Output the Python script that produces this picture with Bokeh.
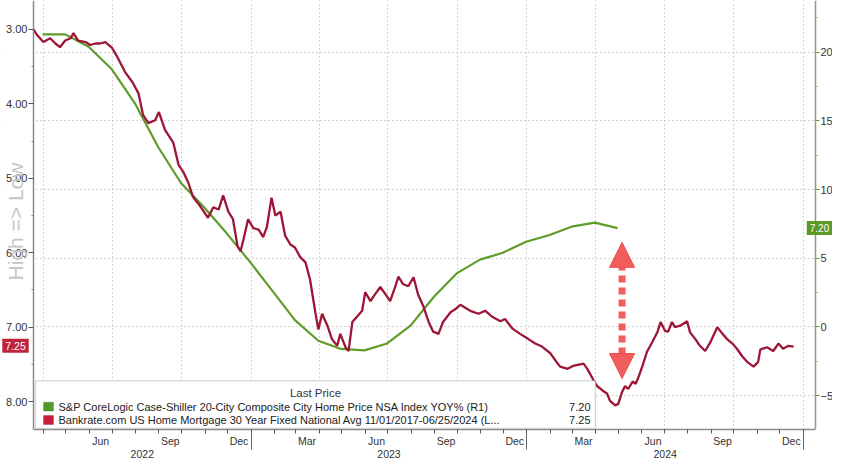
import numpy as np
import pandas as pd
from bokeh.plotting import figure
from bokeh.models import (Range1d, LinearAxis, DatetimeAxis, FixedTicker,
                          DatetimeTickFormatter, NumeralTickFormatter, Grid, Label,
                          BoxAnnotation, Arrow, NormalHead)
from bokeh.embed import file_html
from bokeh.resources import INLINE

# ---------------- data ----------------
hpi_dates = ["2022-03-31", "2022-04-30", "2022-05-31", "2022-06-30", "2022-07-31", "2022-08-31",
             "2022-09-30", "2022-10-31", "2022-11-30", "2022-12-31", "2023-01-31", "2023-02-28",
             "2023-03-31", "2023-04-30", "2023-05-31", "2023-06-30", "2023-07-31", "2023-08-31",
             "2023-09-30", "2023-10-31", "2023-11-30", "2023-12-31", "2024-01-31", "2024-02-29",
             "2024-03-31", "2024-04-30"]
hpi_yoy = [21.3, 21.3, 20.4, 18.8, 16.3, 13.1, 10.5, 8.7, 6.8, 4.7, 2.5, 0.5,
           -1.0, -1.6, -1.7, -1.2, 0.1, 2.2, 3.9, 4.9, 5.4, 6.2, 6.7, 7.3, 7.6, 7.2]

mort_dates = ["2022-03-19", "2022-03-24", "2022-04-01", "2022-04-10", "2022-04-17", "2022-04-23", "2022-04-30", "2022-05-07", "2022-05-11", "2022-05-17",
              "2022-05-27", "2022-06-02", "2022-06-09", "2022-06-15", "2022-06-22", "2022-07-01", "2022-07-09", "2022-07-18", "2022-07-28", "2022-08-05",
              "2022-08-11", "2022-08-18", "2022-08-27", "2022-09-01", "2022-09-09", "2022-09-20", "2022-09-27", "2022-10-03", "2022-10-10", "2022-10-16",
              "2022-10-26", "2022-11-05", "2022-11-12", "2022-11-19", "2022-11-25", "2022-12-02", "2022-12-08", "2022-12-14", "2022-12-18", "2022-12-22",
              "2022-12-28", "2023-01-04", "2023-01-11", "2023-01-17", "2023-01-22", "2023-01-28", "2023-02-02", "2023-02-09", "2023-02-15", "2023-02-22",
              "2023-02-28", "2023-03-07", "2023-03-14", "2023-03-20", "2023-03-27", "2023-03-31", "2023-04-05", "2023-04-12", "2023-04-18", "2023-04-25",
              "2023-04-29", "2023-05-06", "2023-05-10", "2023-05-15", "2023-05-22", "2023-05-28", "2023-06-01", "2023-06-08", "2023-06-14", "2023-06-21",
              "2023-06-28", "2023-07-04", "2023-07-11", "2023-07-15", "2023-07-21", "2023-07-28", "2023-08-04", "2023-08-10", "2023-08-17", "2023-08-24",
              "2023-08-30", "2023-09-06", "2023-09-12", "2023-09-22", "2023-09-28", "2023-10-05", "2023-10-18", "2023-10-29", "2023-11-07", "2023-11-16",
              "2023-11-27", "2023-12-03", "2023-12-13", "2023-12-23", "2024-01-03", "2024-01-12", "2024-01-21", "2024-02-01", "2024-02-08", "2024-02-14",
              "2024-02-24", "2024-03-02", "2024-03-16", "2024-03-21", "2024-03-28", "2024-04-03", "2024-04-10", "2024-04-16", "2024-04-20", "2024-04-27",
              "2024-05-01", "2024-05-06", "2024-05-10", "2024-05-14", "2024-05-20", "2024-05-24", "2024-05-27", "2024-06-02", "2024-06-08", "2024-06-15",
              "2024-06-22", "2024-06-26", "2024-07-02", "2024-07-06", "2024-07-11", "2024-07-15", "2024-07-22", "2024-07-31", "2024-08-04", "2024-08-11",
              "2024-08-17", "2024-08-24", "2024-08-31", "2024-09-09", "2024-09-16", "2024-09-22", "2024-09-29", "2024-10-05", "2024-10-12", "2024-10-19",
              "2024-10-27", "2024-11-02", "2024-11-05", "2024-11-14", "2024-11-22", "2024-11-29", "2024-12-05", "2024-12-12", "2024-12-19"]
mort_rate = [3.00, 3.08, 3.17, 3.12, 3.19, 3.24, 3.15, 3.12, 3.05, 3.15,
             3.17, 3.21, 3.19, 3.19, 3.17, 3.25, 3.39, 3.57, 3.71, 3.86,
             4.15, 4.26, 4.22, 4.11, 4.35, 4.52, 4.82, 4.91, 5.06, 5.25,
             5.38, 5.53, 5.39, 5.42, 5.23, 5.45, 5.55, 5.91, 5.98, 5.82,
             5.55, 5.67, 5.69, 5.79, 5.65, 5.26, 5.50, 5.45, 5.77, 5.89,
             5.93, 6.06, 6.13, 6.36, 6.80, 7.03, 6.82, 6.98, 7.16, 7.25,
             7.09, 7.27, 7.32, 6.93, 6.85, 6.78, 6.53, 6.65, 6.56, 6.46,
             6.56, 6.65, 6.45, 6.32, 6.42, 6.45, 6.33, 6.56, 6.72, 6.93,
             7.06, 7.09, 6.93, 6.80, 6.76, 6.70, 6.78, 6.82, 6.78, 6.86,
             6.92, 6.89, 7.02, 7.09, 7.16, 7.22, 7.26, 7.35, 7.45, 7.53,
             7.56, 7.52, 7.49, 7.56, 7.69, 7.79, 7.85, 7.89, 7.99, 8.05,
             8.03, 7.87, 7.79, 7.83, 7.73, 7.76, 7.69, 7.52, 7.33, 7.20,
             7.06, 6.93, 7.05, 7.06, 6.93, 7.00, 6.98, 6.92, 7.07, 7.16,
             7.25, 7.32, 7.20, 7.00, 7.09, 7.16, 7.22, 7.29, 7.39, 7.47,
             7.53, 7.47, 7.30, 7.27, 7.32, 7.22, 7.29, 7.25, 7.26]

left_ticks = [3, 4, 5, 6, 7, 8]
left_minor = [3.5, 4.5, 5.5, 6.5, 7.5]
right_ticks = [-5, 0, 5, 10, 15, 20]
right_minor = [-7.5, -2.5, 2.5, 7.5, 12.5, 17.5, 22.5]
month_label_months = ["2022-06", "2022-09", "2022-12", "2023-03", "2023-06", "2023-09",
                      "2023-12", "2024-03", "2024-06", "2024-09", "2024-12"]
year_labels = [2022, 2023, 2024]

hpi_name = "S&P CoreLogic Case-Shiller 20-City Composite City Home Price NSA Index YOY%  (R1)"
mort_name = "Bankrate.com US Home Mortgage 30 Year Fixed National Avg 11/01/2017-06/25/2024  (L..."
hpi_last = "7.20"
mort_last = "7.25"

# ---------------- layout / helpers ----------------
def ms(t):
    return pd.Timestamp(t).value / 1e6

FONT = "Liberation Sans"
RED = "#9e1636"
GREEN = "#5f9c2a"
GRID = "#a8a8a8"
ARROW_RED = "#f04a4a"

W, H = 832, 460
FRAME_H = 431                      # frame spans the full canvas width, axes are pinned
PX_LEFT, PX_RIGHT = 33, 815        # where the left / right value axes sit
PLOT_START, PLOT_END = pd.Timestamp("2022-03-19"), pd.Timestamp("2025-01-17")
dpp = (PLOT_END - PLOT_START) / (PX_RIGHT - PX_LEFT)
X0 = PLOT_START - dpp * PX_LEFT
X1 = PLOT_END + dpp * (W - PX_RIGHT)

L_TOP, L_BOT = 2.6123, 8.3743      # inverted mortgage-rate scale
R_TOP, R_BOT = 23.768, -7.464      # YoY % scale


def xpx(px):
    return ms(X0 + dpp * px)


def ypx(py):
    return L_TOP + (L_BOT - L_TOP) * py / FRAME_H


p = figure(width=W, height=H, x_axis_type="datetime", y_axis_location=None,
           output_backend="svg", toolbar_location=None,
           x_range=Range1d(ms(X0), ms(X1)), y_range=Range1d(L_BOT, L_TOP),
           min_border_left=0, min_border_right=0, min_border_top=0, min_border_bottom=H - FRAME_H)
p.outline_line_color = None
p.background_fill_color = "white"
p.border_fill_color = "white"
p.extra_y_ranges = {"right": Range1d(R_BOT, R_TOP)}

# left axis (inverted mortgage rate), pinned at the plot's left edge
ya = LinearAxis(fixed_location=ms(PLOT_START),
                ticker=FixedTicker(ticks=left_ticks, minor_ticks=left_minor),
                formatter=NumeralTickFormatter(format="0.00"))
ya.major_tick_out = 5
ya.major_tick_in = 0
ya.minor_tick_out = 2
ya.minor_tick_in = 0
ya.major_label_standoff = 1
ya.major_label_text_font = FONT
ya.major_label_text_font_size = "11px"
ya.major_label_text_color = "#333333"
ya.axis_line_color = "#8a8a8a"
ya.axis_line_width = 1.5
ya.major_tick_line_color = "#555555"
ya.minor_tick_line_color = "#888888"
p.add_layout(ya, "left")

# right axis (YoY %), pinned at the plot's right edge
ra = LinearAxis(y_range_name="right", fixed_location=ms(PLOT_END),
                ticker=FixedTicker(ticks=right_ticks, minor_ticks=right_minor))
ra.major_tick_out = 4
ra.major_tick_in = 0
ra.minor_tick_out = 2
ra.minor_tick_in = 0
ra.major_label_standoff = 1
ra.major_label_text_font = FONT
ra.major_label_text_font_size = "11px"
ra.major_label_text_color = "#333333"
ra.axis_line_color = "#86a566"
ra.axis_line_width = 1.5
ra.major_tick_line_color = "#6d8f4d"
ra.minor_tick_line_color = "#93ad79"
p.add_layout(ra, "right")

# bottom axis: months (labels centred in the month, ticks at month starts)
month_starts = pd.date_range("2022-04-01", "2025-01-01", freq="MS")
xa = p.xaxis[0]
xa.bounds = (ms(PLOT_START), ms(PLOT_END))
xa.ticker = FixedTicker(ticks=[ms(m + "-16") for m in month_label_months],
                        minor_ticks=[ms(d) for d in month_starts])
xa.formatter = DatetimeTickFormatter(days="%b", months="%b", years="%b")
xa.major_tick_out = 0
xa.major_tick_in = 0
xa.minor_tick_out = 4
xa.minor_tick_in = 0
xa.major_label_standoff = 1
xa.major_label_text_font = FONT
xa.major_label_text_font_size = "10.5px"
xa.major_label_text_color = "#333333"
xa.axis_line_color = "#8a8a8a"
xa.axis_line_width = 1.5
xa.minor_tick_line_color = "#555555"

# bottom axis: years
year_mids, year_seps = [], []
for yv in year_labels:
    a = max(PLOT_START, pd.Timestamp(f"{yv}-01-01"))
    b = min(PLOT_END, pd.Timestamp(f"{yv + 1}-01-01"))
    year_mids.append(ms(a + (b - a) / 2))
    year_seps.append(ms(f"{yv + 1}-01-01"))
yax = DatetimeAxis(ticker=FixedTicker(ticks=year_mids, minor_ticks=year_seps),
                   formatter=DatetimeTickFormatter(days="%Y", months="%Y", years="%Y"))
yax.axis_line_color = None
yax.major_tick_line_color = None
yax.major_tick_out = 0
yax.major_tick_in = 0
yax.minor_tick_in = 17
yax.minor_tick_out = 0
yax.minor_tick_line_color = "#666666"
yax.major_label_standoff = 0
yax.major_label_text_font = FONT
yax.major_label_text_font_size = "10.5px"
yax.major_label_text_color = "#333333"
p.add_layout(yax, "below")

# grids
quarters = pd.date_range("2022-04-01", "2025-01-01", freq="QS")
p.xgrid[0].ticker = FixedTicker(ticks=[ms(d) for d in quarters])
p.xgrid[0].grid_line_color = GRID
p.xgrid[0].grid_line_dash = "1 3"
p.xgrid[0].grid_line_width = 1
for g in p.ygrid:
    g.visible = False
rgrid = Grid(dimension=1, ticker=FixedTicker(ticks=right_ticks), y_range_name="right",
             grid_line_color=GRID, grid_line_dash="1 3", grid_line_width=1)
p.add_layout(rgrid)
# keep grid lines inside the plotting area (white margins under the axes' labels)
for lft, rgt in [(ms(X0), ms(PLOT_START)), (ms(PLOT_END), ms(X1))]:
    p.add_layout(BoxAnnotation(left=lft, right=rgt, top=L_TOP, bottom=L_BOT, level="underlay",
                               fill_color="white", fill_alpha=1, line_alpha=0))

# series
p.line(pd.to_datetime(hpi_dates), hpi_yoy, y_range_name="right",
       line_color=GREEN, line_width=2.2)
p.line(pd.to_datetime(mort_dates), mort_rate, line_color=RED, line_width=2.3)

# red double arrow
arrow_x = ms("2024-05-06")
p.add_layout(Arrow(x_start=arrow_x, y_start=7.69, x_end=arrow_x, y_end=5.86,
                   start=NormalHead(size=25, fill_color=ARROW_RED, line_color=ARROW_RED, fill_alpha=0.9),
                   end=NormalHead(size=25, fill_color=ARROW_RED, line_color=ARROW_RED, fill_alpha=0.9),
                   line_color=ARROW_RED, line_width=7, line_dash="7 5", line_alpha=0.9))

# legend box
p.add_layout(BoxAnnotation(left=xpx(35), right=xpx(595), top=ypx(382), bottom=ypx(430),
                           fill_color="white", fill_alpha=1, line_color="#8c8c8c", line_width=1.5))
p.add_layout(Label(x=xpx(315), y=ypx(394), text="Last Price", text_align="center",
                   text_baseline="middle", text_font=FONT, text_font_size="11.5px", text_color="#333333"))
for cy, txt, val, fc, lc in [(408, hpi_name, hpi_last, "#4f9a2a", "#3c7a1e"),
                             (421.5, mort_name, mort_last, "#c8203a", "#9a1028")]:
    p.add_layout(BoxAnnotation(left=xpx(43), right=xpx(53), top=ypx(cy - 4.5), bottom=ypx(cy + 4.5),
                               fill_color=fc, fill_alpha=1, line_color=lc))
    p.add_layout(Label(x=xpx(58), y=ypx(cy), text=txt, text_align="left", text_baseline="middle",
                       text_font=FONT, text_font_size="11px", text_color="#222222"))
    p.add_layout(Label(x=xpx(590), y=ypx(cy), text=val, text_align="right", text_baseline="middle",
                       text_font=FONT, text_font_size="11px", text_color="#222222"))

# last value tags
p.add_layout(Label(x=xpx(15), y=float(mort_last), text=mort_last, text_align="center",
                   text_baseline="middle", text_font=FONT, text_font_size="10.5px", text_color="white",
                   background_fill_color="#c0233b", background_fill_alpha=1, padding=3))
p.add_layout(Label(x=xpx(819), y=float(hpi_last), y_range_name="right", text=hpi_last,
                   text_align="center", text_baseline="middle", text_font=FONT,
                   text_font_size="10px", text_color="white",
                   background_fill_color="#5b9a2a", background_fill_alpha=1, padding=3))

# axis hint
p.add_layout(Label(x=xpx(15), y=ypx(222), text="High => Low", angle=np.pi / 2,
                   text_align="center", text_baseline="middle", text_font=FONT,
                   text_font_size="21px", text_color="#c6c6c6"))

open("out.html", "w").write(file_html(p, INLINE, title="chart"))
